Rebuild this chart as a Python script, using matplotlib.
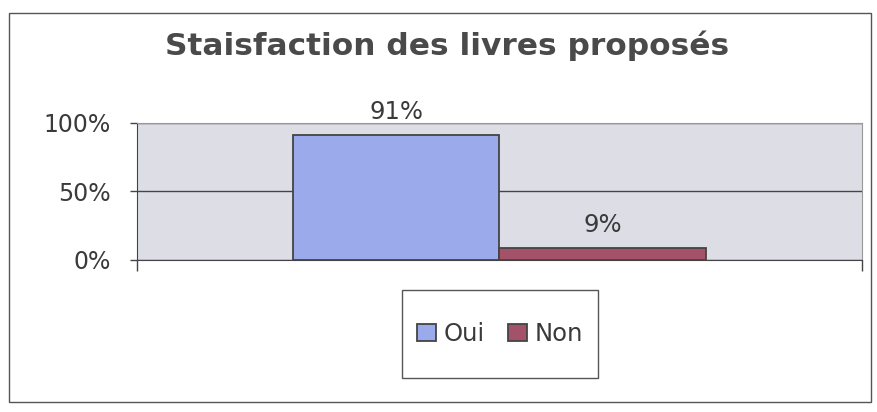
import matplotlib.pyplot as plt
from matplotlib.patches import Rectangle

plt.rcParams['font.family'] = ['DejaVu Sans']

categories = ['Oui', 'Non']
values = [0.91, 0.09]
labels = ['91%', '9%']
colors = ['#9aaaea', '#a4526a']
yticks = [0, 0.5, 1.0]
ytick_labels = ['0%', '50%', '100%']

fig = plt.figure(figsize=(8.77, 4.12), dpi=100)
fig.patch.set_facecolor('white')
# outer chart border
fig.patches.append(Rectangle((0.0103, 0.024), 0.983, 0.944, transform=fig.transFigure,
                             fill=False, edgecolor='#555555', linewidth=1.0))

ax = fig.add_axes([0.156, 0.369, 0.827, 0.333])
ax.set_facecolor('#dddde6')

width = 0.285
xpos = [-width / 2, width / 2]
bars = ax.bar(xpos, values, width=width, color=colors, edgecolor='#444444',
              linewidth=1.3, label=categories, zorder=3)
for b, lab in zip(bars, labels):
    ax.annotate(lab, (b.get_x() + b.get_width() / 2, b.get_height()),
                xytext=(0, 8), textcoords='offset points', ha='center', va='bottom',
                fontsize=17.5, color='#3a3a3a')

ax.set_xlim(-0.5, 0.5)
ax.set_ylim(0, 1)
ax.set_yticks(yticks)
ax.set_yticklabels(ytick_labels, fontsize=17, color='#3a3a3a')
ax.set_xticks([-0.5, 0.5])
ax.set_xticklabels([])
ax.tick_params(axis='x', direction='out', length=8, color='#444444', width=1)
ax.tick_params(axis='y', direction='out', length=5, pad=14, color='#444444', width=1)
ax.yaxis.grid(True, color='#444444', linewidth=1, zorder=1)
ax.set_axisbelow(True)
for s in ['left', 'bottom']:
    ax.spines[s].set_color('#444444')
for s in ['top', 'right']:
    ax.spines[s].set_color('#999999')

fig.text(0.51, 0.8665, 'Staisfaction des livres proposés', ha='center', va='baseline',
         fontsize=22.5, fontweight='bold', color='#4a4a4a')

# legend box drawn separately so its padding can be wider vertically than horizontally
fig.patches.append(Rectangle((0.458, 0.0825), 0.224, 0.2135, transform=fig.transFigure,
                             facecolor='white', edgecolor='#555555', linewidth=1.0))
handles = [Rectangle((0, 0), 1, 1, facecolor=c, edgecolor='#444444', linewidth=1.3)
           for c in colors]
leg = fig.legend(handles, categories, loc='center', bbox_to_anchor=(0.570, 0.19),
                 ncol=2, fontsize=17.5, frameon=False,
                 handlelength=0.8, handleheight=0.7, handletextpad=0.3,
                 columnspacing=0.95, borderpad=0, borderaxespad=0)
for t in leg.get_texts():
    t.set_color('#3a3a3a')

fig.savefig('out.png', dpi=100)
